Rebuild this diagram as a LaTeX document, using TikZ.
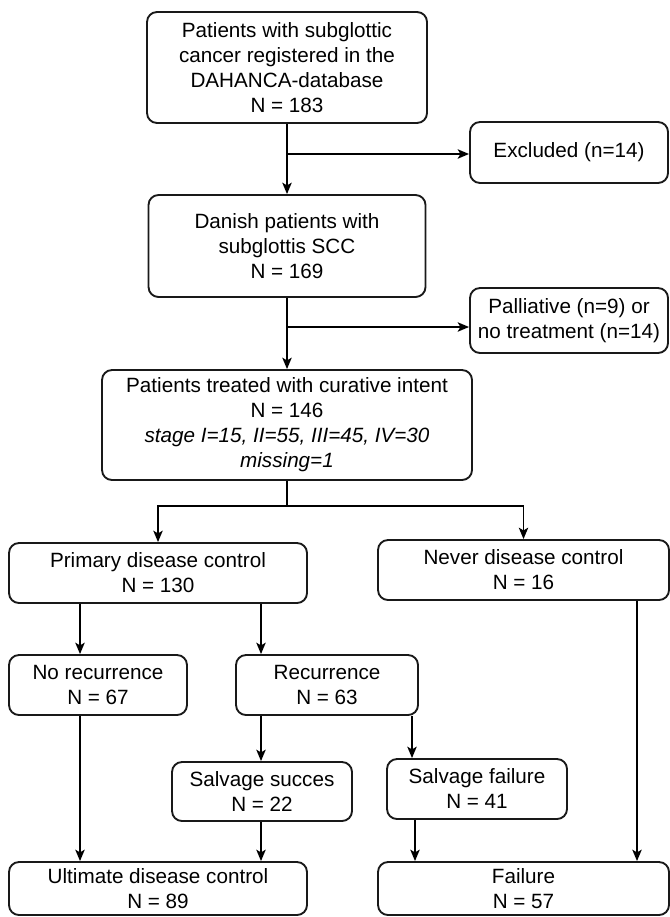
\documentclass[tikz,border=0pt]{standalone}
\usepackage{fontspec}
\setmainfont{Liberation Sans}
\usetikzlibrary{arrows.meta, positioning}

\begin{document}
\begin{tikzpicture}[x=0.75pt, y=-0.75pt, every node/.style={font=\fontsize{15.5}{18.75}\selectfont}]
    % Define styles
    \tikzstyle{flowbox} = [rectangle, rounded corners=7.5pt, draw=black!90, line width=1.4pt, align=center, inner sep=0pt]
    \tikzstyle{boxsize} = [minimum width=#1*0.75pt]
    \tikzstyle{boxheight} = [minimum height=#1*0.75pt]
    \tikzstyle{arrow} = [line width=1.4pt, -{Stealth[length=8.5pt, width=7pt, inset=2pt]}]
    \tikzstyle{plainline} = [line width=1.4pt]

    \useasboundingbox (0,0) rectangle (670,917);

    % Selection of patients
    \node (registered) [flowbox, boxsize=280, boxheight=111] at (287,67.5) {Patients with subglottic\\cancer registered in the\\DAHANCA-database\\N = 183};
    \node (excluded) [flowbox, boxsize=198, boxheight=61] at (569,152.5) {Excluded (n=14)};
    \node (danish) [flowbox, boxsize=277, boxheight=102] at (287,246) {Danish patients with\\subglottis SCC\\N = 169};
    \node (palliative) [flowbox, boxsize=198, boxheight=65] at (569,320.5) {Palliative (n=9) or\\no treatment (n=14)};
    \node (curative) [flowbox, boxsize=370, boxheight=110] at (287,425) {Patients treated with curative intent\\N = 146\\\textit{stage I=15, II=55, III=45, IV=30}\\\textit{missing=1}};

    % Outcome of treatment
    \node (primary) [flowbox, boxsize=298, boxheight=60] at (158,573) {Primary disease control\\N = 130};
    \node (never) [flowbox, boxsize=291, boxheight=60] at (523.5,570) {Never disease control\\N = 16};
    \node (norecur) [flowbox, boxsize=178, boxheight=60] at (98,685) {No recurrence\\N = 67};
    \node (recur) [flowbox, boxsize=182, boxheight=60] at (327,685) {Recurrence\\N = 63};
    \node (salsucc) [flowbox, boxsize=180, boxheight=59] at (262,791.5) {Salvage succes\\N = 22};
    \node (salfail) [flowbox, boxsize=180, boxheight=60] at (477,789) {Salvage failure\\N = 41};
    \node (ultimate) [flowbox, boxsize=298, boxheight=53] at (158,888.5) {Ultimate disease control\\N = 89};
    \node (failure) [flowbox, boxsize=291, boxheight=53] at (523.5,888.5) {Failure\\N = 57};

    % Selection flow
    \draw [arrow] (registered) -- (danish);
    \draw [arrow] (registered.south |- 0,154) -- (excluded.west |- 0,154);
    \draw [arrow] (danish) -- (curative);
    \draw [arrow] (danish.south |- 0,327) -- (palliative.west |- 0,327);

    % Split after curative treatment
    \coordinate (split) at (287,506);
    \draw [plainline] (curative) -- (split);
    \draw [arrow] (split) -| (primary);
    \draw [arrow] (split) -| (never);

    % Recurrence and salvage
    \draw [arrow] (primary.south -| 80,0) -- (norecur.north -| 80,0);
    \draw [arrow] (primary.south -| 261,0) -- (recur.north -| 261,0);
    \draw [arrow] (recur.south -| 261,0) -- (salsucc.north -| 261,0);
    \draw [arrow] (recur.south -| 412,0) -- (salfail.north -| 412,0);

    % Ultimate outcome
    \draw [arrow] (norecur.south -| 80,0) -- (ultimate.north -| 80,0);
    \draw [arrow] (salsucc.south -| 261,0) -- (ultimate.north -| 261,0);
    \draw [arrow] (salfail.south -| 415,0) -- (failure.north -| 415,0);
    \draw [arrow] (never.south -| 637,0) -- (failure.north -| 637,0);
\end{tikzpicture}
\end{document}
